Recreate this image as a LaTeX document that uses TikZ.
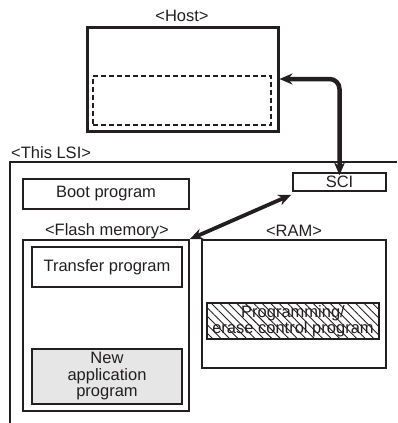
\documentclass[tikz,border=0pt]{standalone}
\usepackage{fontspec}
\setmainfont{Liberation Sans}
\usepackage{tikz}
\usetikzlibrary{positioning,arrows.meta,patterns.meta}
\definecolor{figInk}{HTML}{231F20}
\definecolor{figShade}{HTML}{E6E6E6}

\begin{document}
\begin{tikzpicture}[
  x=1pt, y=-1pt,
  every node/.style={font=\fontsize{16.5}{16.5}\selectfont, text=figInk},
  box/.style={rectangle, draw=figInk, line width=1.5pt, inner sep=0pt,
    minimum width=#1, align=center},
  tag/.style={inner sep=0pt},
  link/.style={{Stealth[length=13pt,width=11pt]}-{Stealth[length=13pt,width=11pt]}, line width=#1, figInk},
  link/.default=4.5pt,
]
\useasboundingbox (0,0) rectangle (397,423);

% === Host (top) ===
\node[box=191pt, line width=3pt, minimum height=104pt] (host) at (182.5,79) {};
\node[box=178pt, dash pattern=on 5pt off 3pt, line width=1.3pt, minimum height=49pt] (buf) at (182,100.5) {};
\node[tag] (host-lbl) at (182,16) {<Host>};

% === This LSI (bottom) ===
\node[tag, anchor=west] (lsi-lbl) at (11,153) {<This LSI>};
\coordinate (lsi-tr) at (397,162);
\coordinate (lsi-tl) at (10,162);
\coordinate (lsi-bl) at (10,423);
\draw[figInk, line width=2.6pt] (lsi-tr) -- (lsi-tl) -- (lsi-bl);

\node[box=93pt, minimum height=18pt] (sci) at (339.5,182) {SCI};
\node[box=166pt, minimum height=30pt] (boot) at (106,194) {Boot program};

\node[tag] (flash-lbl) at (107,231) {<Flash memory>};
\node[tag] (ram-lbl) at (294,231) {<RAM>};

\node[box=166pt, minimum height=171pt] (flash) at (106,325.5) {};
\node[box=184pt, minimum height=128pt] (ram) at (294,304) {};

\node[box=150pt, minimum height=40pt] (xfer) at (107,267) {Transfer program};
\node[box=150pt, minimum height=55pt, fill=figShade] (app) at (107,376.5)
  {New\\application\\program};
\node[box=172pt, minimum height=36pt,
  pattern={Lines[angle=-45,distance=6pt,line width=0.9pt]}, pattern color=figInk]
  (pec) at (293,321) {Programming/\\erase control program};

% Connections
\draw[link, rounded corners=10pt] (host.east) -| ([yshift=-3pt]sci.north);
\draw[link=3.8pt] ([shift={(-1pt,-3pt)}]sci.south west) -- (flash.north east);
\end{tikzpicture}
\end{document}
